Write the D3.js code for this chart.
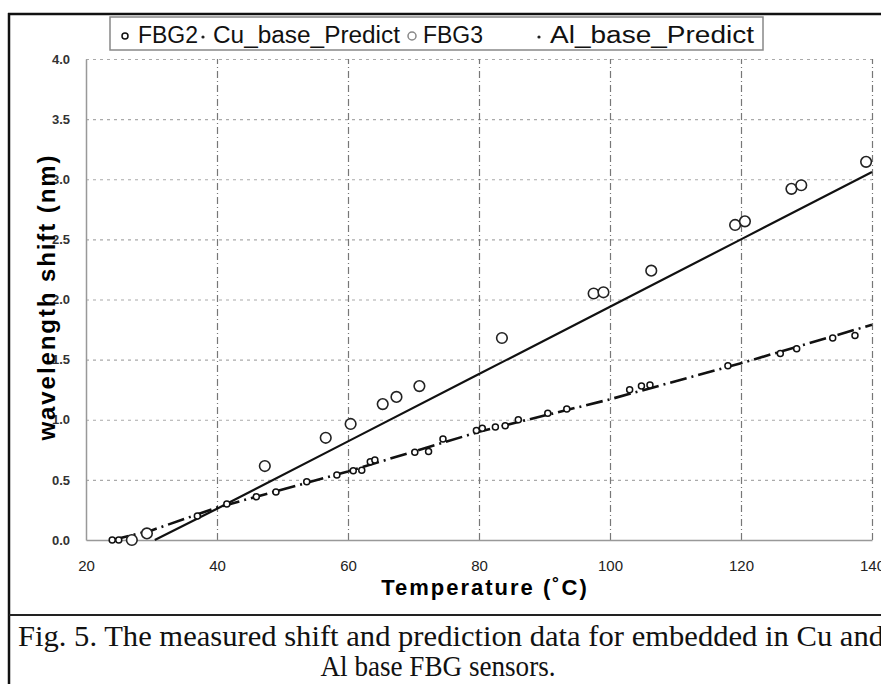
<!DOCTYPE html>
<html>
<head>
<meta charset="utf-8">
<script src="https://cdnjs.cloudflare.com/ajax/libs/d3/7.8.5/d3.min.js"></script>
<style>
  body { margin: 0; background: #fff; }
  svg { display: block; }
</style>
</head>
<body>
<svg width="881" height="684"></svg>
<script>
// Measured shift, Cu base sensor (FBG2)
var fbg2Temp  = [24.0, 25.0, 37.0, 41.5, 46.0, 49.0, 53.7, 58.3, 60.8, 62.1, 63.4, 64.1, 70.2, 72.3, 74.5,
                 79.6, 80.5, 82.5, 84.0, 86.0, 90.5, 93.4, 103.0, 104.8, 106.1, 118.0, 126.0, 128.5, 134.0, 137.4];
var fbg2Shift = [0.00, 0.00, 0.20, 0.30, 0.36, 0.40, 0.485, 0.54, 0.575, 0.58, 0.65, 0.665, 0.73, 0.735, 0.84,
                 0.91, 0.93, 0.94, 0.95, 1.00, 1.055, 1.09, 1.25, 1.28, 1.29, 1.45, 1.55, 1.59, 1.68, 1.70];

// Measured shift, Al base sensor (FBG3)
var fbg3Temp  = [27.0, 29.3, 47.3, 56.6, 60.4, 65.3, 67.4, 70.9, 83.5, 97.5, 99.0, 106.3, 119.1, 120.6, 127.7, 129.2, 139.1];
var fbg3Shift = [0.00, 0.055, 0.615, 0.85, 0.965, 1.13, 1.19, 1.28, 1.68, 2.05, 2.06, 2.24, 2.62, 2.65, 2.92, 2.95, 3.145];

// Predicted lines
var cuPredTemp  = [24, 30, 40, 60, 80, 100, 120, 140];
var cuPredShift = [0.00, 0.08, 0.27, 0.57, 0.90, 1.17, 1.47, 1.79];
var alPredTemp  = [30.5, 40, 60, 80, 100, 120, 140];
var alPredShift = [0.00, 0.26, 0.82, 1.38, 1.94, 2.50, 3.06];

var xTicks = [20, 40, 60, 80, 100, 120, 140];
var yTicks = [0, 0.5, 1.0, 1.5, 2.0, 2.5, 3.0, 3.5, 4.0];

var legendLabels = ["FBG2", "Cu_base_Predict", "FBG3", "Al_base_Predict"];
var captionLines = ["Fig. 5. The measured shift and prediction data for embedded in Cu and",
                    "Al base FBG sensors."];

var svg = d3.select("svg");

var x = d3.scaleLinear().domain([20, 140]).range([86, 872]);
var y = d3.scaleLinear().domain([0, 4]).range([540, 59]);

// Outer frame of the figure
svg.append("line").attr("x1", 8).attr("x2", 881).attr("y1", 14).attr("y2", 14)
    .attr("stroke", "#111").attr("stroke-width", 2.5);
svg.append("line").attr("x1", 9).attr("x2", 9).attr("y1", 13).attr("y2", 684)
    .attr("stroke", "#111").attr("stroke-width", 2.5);
svg.append("line").attr("x1", 9).attr("x2", 881).attr("y1", 615).attr("y2", 615)
    .attr("stroke", "#222").attr("stroke-width", 2);

// Grid lines
svg.append("g")
    .attr("class", "grid-y")
    .attr("transform", "translate(86,0)")
    .call(d3.axisLeft(y).tickValues(yTicks.slice(1)).tickSize(-(872 - 86)).tickFormat(""))
    .call(function(g) {
      g.select(".domain").remove();
      g.selectAll("line").attr("stroke", "#aaa").attr("stroke-width", 1.2).attr("stroke-dasharray", "3,4");
    });

svg.append("g")
    .attr("class", "grid-x")
    .attr("transform", "translate(0,540)")
    .call(d3.axisBottom(x).tickValues(xTicks.slice(1)).tickSize(-(540 - 59)).tickFormat(""))
    .call(function(g) {
      g.select(".domain").remove();
      g.selectAll("line").attr("stroke", "#777").attr("stroke-width", 1.2).attr("stroke-dasharray", "7,3,1,3");
    });

// Axes
svg.append("g")
    .attr("transform", "translate(86,0)")
    .call(d3.axisLeft(y).tickValues(yTicks).tickSize(0).tickPadding(16).tickFormat(d3.format(".1f")))
    .call(function(g) {
      g.select(".domain").attr("stroke", "#999").attr("stroke-width", 1.5);
      g.selectAll("text").attr("font-family", "Liberation Sans, Arial, sans-serif")
        .attr("font-size", 13).attr("font-weight", "bold").attr("fill", "#333");
    });

svg.append("g")
    .attr("transform", "translate(0,540)")
    .call(d3.axisBottom(x).tickValues(xTicks).tickSize(0).tickPadding(20))
    .call(function(g) {
      g.select(".domain").attr("stroke", "#999").attr("stroke-width", 1.5);
      g.selectAll("text").attr("font-family", "Liberation Sans, Arial, sans-serif")
        .attr("font-size", 15).attr("fill", "#222");
    });

// Axis titles
svg.append("text")
    .attr("x", 485).attr("y", 595)
    .attr("text-anchor", "middle")
    .attr("font-family", "Liberation Sans, Arial, sans-serif")
    .attr("font-weight", "bold").attr("font-size", 22)
    .attr("letter-spacing", 2)
    .text("Temperature (˚C)");

svg.append("text")
    .attr("transform", "translate(55,298) rotate(-90)")
    .attr("text-anchor", "middle")
    .attr("font-family", "Liberation Sans, Arial, sans-serif")
    .attr("font-weight", "bold").attr("font-size", 24)
    .attr("textLength", 285).attr("lengthAdjust", "spacing")
    .text("wavelength shift (nm)");

// Prediction lines
var line = d3.line()
    .x(function(d) { return x(d[0]); })
    .y(function(d) { return y(d[1]); });

svg.append("path")
    .datum(d3.zip(alPredTemp, alPredShift))
    .attr("d", line)
    .attr("fill", "none").attr("stroke", "#111").attr("stroke-width", 2.2);

svg.append("path")
    .datum(d3.zip(cuPredTemp, cuPredShift))
    .attr("d", line)
    .attr("fill", "none").attr("stroke", "#111").attr("stroke-width", 2.6)
    .attr("stroke-dasharray", "17,5,2,5");

// Measured points
svg.append("g").selectAll("circle")
    .data(d3.zip(fbg3Temp, fbg3Shift))
    .enter().append("circle")
      .attr("cx", function(d) { return x(d[0]); })
      .attr("cy", function(d) { return y(d[1]); })
      .attr("r", 5.3)
      .attr("fill", "#fff").attr("stroke", "#222").attr("stroke-width", 1.6);

svg.append("g").selectAll("circle")
    .data(d3.zip(fbg2Temp, fbg2Shift))
    .enter().append("circle")
      .attr("cx", function(d) { return x(d[0]); })
      .attr("cy", function(d) { return y(d[1]); })
      .attr("r", 3)
      .attr("fill", "#fff").attr("stroke", "#111").attr("stroke-width", 1.5);

// Legend
var legend = svg.append("g").attr("class", "legend");
legend.append("rect")
    .attr("x", 110).attr("y", 17).attr("width", 653).attr("height", 33)
    .attr("fill", "#fff").attr("stroke", "#888").attr("stroke-width", 1.5);

var legendX = [138, 213, 423, 550];
var legendW = [60, 187, 60, 204];
legend.selectAll("text")
    .data(legendLabels)
    .enter().append("text")
      .attr("x", function(d, i) { return legendX[i]; })
      .attr("y", 43)
      .attr("font-family", "Liberation Sans, Arial, sans-serif")
      .attr("font-size", 23).attr("fill", "#111")
      .attr("textLength", function(d, i) { return legendW[i]; })
      .attr("lengthAdjust", "spacingAndGlyphs")
      .text(function(d) { return d; });

legend.append("circle").attr("cx", 125).attr("cy", 36).attr("r", 3)
    .attr("fill", "#fff").attr("stroke", "#111").attr("stroke-width", 1.5);
legend.append("circle").attr("cx", 203).attr("cy", 37).attr("r", 1.6).attr("fill", "#222");
legend.append("circle").attr("cx", 412).attr("cy", 36).attr("r", 4)
    .attr("fill", "#fff").attr("stroke", "#888").attr("stroke-width", 1.5);
legend.append("circle").attr("cx", 539).attr("cy", 37).attr("r", 1.6).attr("fill", "#222");

// Caption
var captionLen = [866, 235];
svg.append("g").selectAll("text")
    .data(captionLines)
    .enter().append("text")
      .attr("x", function(d, i) { return i == 0 ? 18 : 438; })
      .attr("y", function(d, i) { return 646 + i * 30; })
      .attr("text-anchor", function(d, i) { return i == 0 ? "start" : "middle"; })
      .attr("font-family", "Liberation Serif, Times New Roman, serif")
      .attr("font-size", 30).attr("fill", "#111")
      .attr("textLength", function(d, i) { return captionLen[i]; })
      .attr("lengthAdjust", "spacingAndGlyphs")
      .text(function(d) { return d; });
</script>
</body>
</html>
